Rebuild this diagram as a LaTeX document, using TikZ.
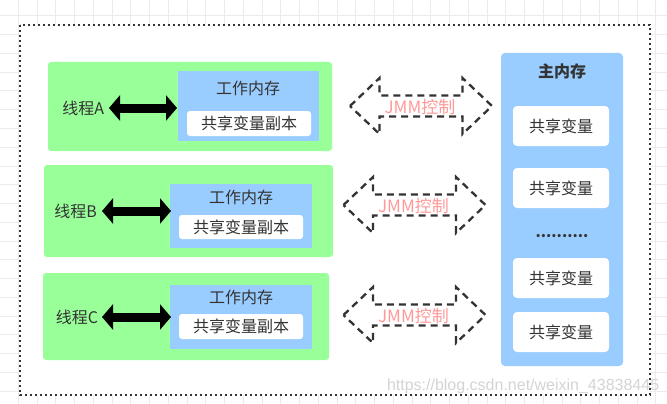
\documentclass[tikz,border=0pt]{standalone}
\usepackage{fontspec}
\setmainfont{Noto Sans CJK SC}
\newfontfamily\wmfont{Liberation Sans}
\usetikzlibrary{arrows.meta}
\definecolor{gfill}{HTML}{99FF99}
\definecolor{bfill}{HTML}{99CCFF}
\definecolor{txt}{HTML}{333333}
\definecolor{jmmc}{HTML}{FF9999}
\definecolor{gridc}{HTML}{EBEBEB}
\begin{document}
\begin{tikzpicture}[x=1pt,y=-1pt,
  every node/.style={inner sep=0pt, outer sep=0pt, text=txt, font=\fontsize{16}{16}\selectfont},
  gridline/.style={draw=gridc, line width=1pt},
  framebox/.style={draw=txt, line width=2.3pt, dash pattern=on 2pt off 3pt},
  gbox/.style={fill=gfill, rounded corners=3pt},
  bbox/.style={fill=bfill},
  wbox/.style={fill=white, rounded corners=3pt},
  mbox/.style={fill=bfill, rounded corners=4pt},
  mwbox/.style={fill=white, rounded corners=4pt},
  blackarrow/.style={line width=9pt, {Triangle[length=11pt,width=25pt]}-{Triangle[length=11pt,width=25pt]}},
  jmmshape/.style={draw=txt, line width=2.3pt, dash pattern=on 7pt off 5pt, line join=miter},
  jmmtext/.style={text=jmmc, font=\fontsize{17}{17}\selectfont}
]
\useasboundingbox (0,0) rectangle (667,404);
% background grid
\foreach \k in {0,...,36} { \draw[gridline] ({-0.4+18.75*\k},0) -- ({-0.4+18.75*\k},404); }
\foreach \k in {-1,...,21} { \draw[gridline] (0,{16+18.75*\k}) -- (667,{16+18.75*\k}); }
% frame
\fill[white] (20,25) rectangle (650,395);
\draw[framebox] (20,25) rectangle (650,395);

% Thread A
\node[gbox, minimum width=284pt, minimum height=89pt] (gA) at (190,106.5) {};
\node[bbox, minimum width=141pt, minimum height=70pt] (bA) at (248.5,106) {};
\node (wtA) at (248,88) {工作内存};
\node[wbox, minimum width=124pt, minimum height=25pt] (wA) at (249,123.5) {共享变量副本};
\node[anchor=east] (tA) at (104,108) {线程A};
\draw[blackarrow] ([xshift=5pt]tA.east) -- ([xshift=-1pt]tA.east -| bA.west);

% Thread B
\node[gbox, minimum width=289pt, minimum height=92pt] (gB) at (188.5,211) {};
\node[bbox, minimum width=142pt, minimum height=64pt] (bB) at (241,216) {};
\node (wtB) at (241,197) {工作内存};
\node[wbox, minimum width=124pt, minimum height=24pt] (wB) at (241,227) {共享变量副本};
\node[anchor=east] (tB) at (97,211) {线程B};
\draw[blackarrow] ([xshift=5pt]tB.east) -- ([xshift=1pt]tB.east -| bB.west);

% Thread C
\node[gbox, minimum width=286pt, minimum height=87pt] (gC) at (186,316.5) {};
\node[bbox, minimum width=142pt, minimum height=64pt] (bC) at (241,317) {};
\node (wtC) at (241,297) {工作内存};
\node[wbox, minimum width=124pt, minimum height=25pt] (wC) at (241,326.5) {共享变量副本};
\node[anchor=east] (tC) at (98,317) {线程C};
\draw[blackarrow] ([xshift=4pt]tC.east) -- ([xshift=1pt]tC.east -| bC.west);

% Main memory
\node[mbox, minimum width=122pt, minimum height=313pt] (mm) at (562,209.5) {};
\node[font=\fontsize{16}{16}\selectfont\bfseries] (mmt) at (562,71) {主内存};
\node[mwbox, minimum width=96pt, minimum height=40pt] (v1) at (561,126) {共享变量};
\node[mwbox, minimum width=96pt, minimum height=40pt] (v2) at (561,188) {共享变量};
\node[font=\fontsize{15}{15}\selectfont\bfseries] (dots) at (562,236) {..........};
\node[mwbox, minimum width=96pt, minimum height=40pt] (v3) at (561,278) {共享变量};
\node[mwbox, minimum width=96pt, minimum height=40pt] (v4) at (561,332) {共享变量};

% JMM arrows
\foreach \cx/\cy/\nm in {421/106/j1, 414.5/205/j2, 414.5/315/j3} {
  \begin{scope}[shift={(\cx,\cy)}]
    \draw[jmmshape] (-71,0) -- (-41.5,-28) -- (-41.5,-10.5) -- (41.5,-10.5) -- (41.5,-28)
      -- (71,0) -- (41.5,28) -- (41.5,10.5) -- (-41.5,10.5) -- (-41.5,28) -- cycle;
    \node[jmmtext] (\nm) at (-1,1.5) {JMM控制};
  \end{scope}
}

% watermark
\node[anchor=west, text=black!17, font=\wmfont\fontsize{16}{16}\selectfont] (wm) at (387,386) {https://blog.csdn.net/weixin\_43838445};
\end{tikzpicture}
\end{document}
